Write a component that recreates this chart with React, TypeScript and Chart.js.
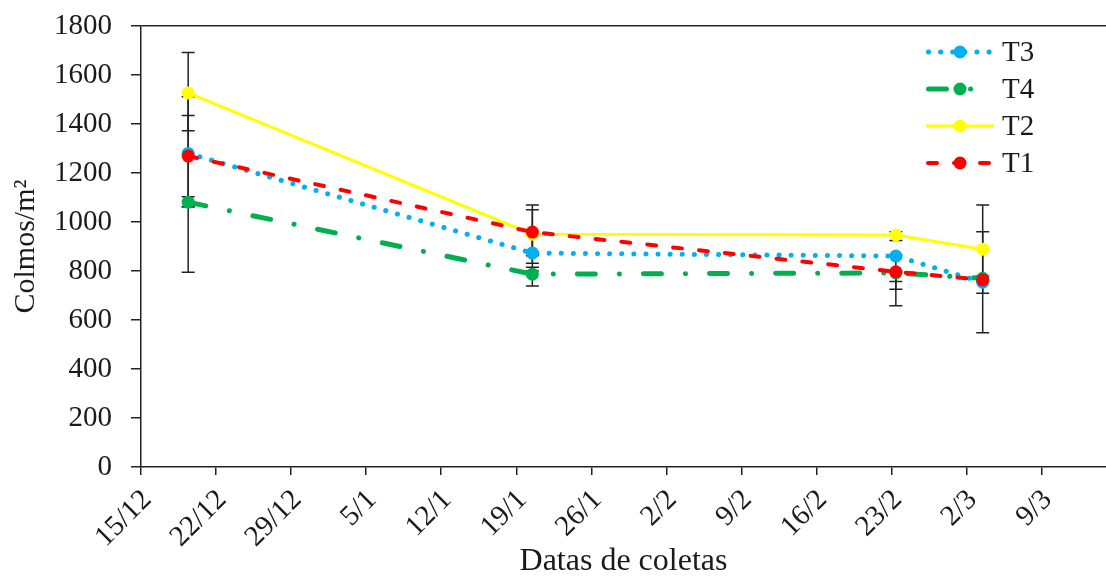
import React, { useEffect, useRef } from "react";
import { Chart, registerables } from "chart.js";

Chart.register(...registerables);

// Sampling dates, as days after 15/12
const sampleDays = [4.4, 36.5, 70.4, 78.5];
// Tick labels, one every 7 days starting at 15/12
const tickLabels = ["15/12", "22/12", "29/12", "5/1", "12/1", "19/1", "26/1", "2/2", "9/2", "16/2", "23/2", "2/3", "9/3"];

// Series values (Colmos/m²)
const t3Values = [1280, 873, 861, 754];
const t4Values = [1081, 787, 792, 770];
const t2Values = [1527, 950, 947, 889];
const t1Values = [1269, 959, 797, 764];

// Error bar limits (low / high)
const t3Low = [1062, 862, 726, 548];
const t3High = [1511, 945, 866, 960];
const t4Low = [1062, 739, 757, 760];
const t4High = [1103, 800, 795, 780];
const t2Low = [1372, 832, 924, 709];
const t2High = [1692, 1050, 960, 1069];
const t1Low = [795, 815, 658, 754];
const t1High = [1435, 1069, 800, 774];

const FONT = "'Liberation Serif', 'Times New Roman', serif";
const TEXT = "#1a1a1a";
const AXIS = "#222222";

const series = [
  { label: "T3", values: t3Values, low: t3Low, high: t3High, color: "#00B0F0", width: 5, dash: [0.1, 12], cap: "round", order: 1 },
  { label: "T4", values: t4Values, low: t4Low, high: t4High, color: "#00B050", width: 5, dash: [18, 24, 0.1, 24], cap: "round", order: 2 },
  { label: "T2", values: t2Values, low: t2Low, high: t2High, color: "#FFFF00", width: 3, dash: [], cap: "butt", order: 3 },
  { label: "T1", values: t1Values, low: t1Low, high: t1High, color: "#FF0000", width: 4, dash: [9, 17], cap: "round", order: 0 },
];

const errorBarPlugin = {
  id: "errorBars",
  beforeDatasetsDraw(chart: any) {
    const { ctx } = chart;
    const xs = chart.scales.x;
    const ys = chart.scales.y;
    ctx.save();
    ctx.strokeStyle = AXIS;
    ctx.lineWidth = 1.5;
    series.forEach((s) => {
      sampleDays.forEach((d, i) => {
        const x = xs.getPixelForValue(d);
        const yl = ys.getPixelForValue(s.low[i]);
        const yh = ys.getPixelForValue(s.high[i]);
        ctx.beginPath();
        ctx.moveTo(x, yl);
        ctx.lineTo(x, yh);
        ctx.moveTo(x - 6.5, yl);
        ctx.lineTo(x + 6.5, yl);
        ctx.moveTo(x - 6.5, yh);
        ctx.lineTo(x + 6.5, yh);
        ctx.stroke();
      });
    });
    ctx.restore();
  },
};

const legendPlugin = {
  id: "customLegend",
  afterDraw(chart: any) {
    const { ctx } = chart;
    ctx.save();
    series.forEach((s, i) => {
      const y = 52 + i * 37;
      const x0 = 926;
      const x1 = s.label === "T4" ? 975 : 994;
      ctx.beginPath();
      ctx.strokeStyle = s.color;
      ctx.lineWidth = s.width;
      ctx.lineCap = s.cap;
      ctx.setLineDash(s.dash);
      ctx.moveTo(x0 + (s.cap === "round" ? s.width / 2 : 0), y);
      ctx.lineTo(x1, y);
      ctx.stroke();
      ctx.setLineDash([]);
      ctx.beginPath();
      ctx.fillStyle = s.color;
      ctx.arc(960, y, 6.5, 0, Math.PI * 2);
      ctx.fill();
      ctx.fillStyle = TEXT;
      ctx.font = `29px ${FONT}`;
      ctx.textAlign = "left";
      ctx.textBaseline = "middle";
      ctx.fillText(s.label, 1002, y + 1);
    });
    ctx.restore();
  },
};

export default function App() {
  const canvasRef = useRef<HTMLCanvasElement | null>(null);

  useEffect(() => {
    if (!canvasRef.current) return;
    const chart = new Chart(canvasRef.current, {
      type: "line",
      data: {
        datasets: series.map((s) => ({
          label: s.label,
          data: s.values.map((v, i) => ({ x: sampleDays[i], y: v })),
          borderColor: s.color,
          backgroundColor: s.color,
          borderWidth: s.width,
          borderDash: s.dash,
          borderCapStyle: s.cap as any,
          pointRadius: 6.5,
          pointBorderWidth: 0,
          pointBackgroundColor: s.color,
          pointHoverRadius: 6.5,
          tension: 0,
          fill: false,
          order: s.order,
        })),
      },
      options: {
        responsive: false,
        animation: false,
        layout: { autoPadding: false, padding: { top: 26, right: 0, bottom: 0, left: 0 } },
        plugins: { legend: { display: false }, tooltip: { enabled: false } },
        scales: {
          x: {
            type: "linear",
            min: 0,
            max: 90,
            afterBuildTicks: (scale: any) => {
              scale.ticks = tickLabels.map((_, i) => ({ value: i * 7 }));
            },
            afterFit: (scale: any) => {
              scale.height = 109;
              scale.paddingLeft = 0;
              scale.paddingRight = 0;
            },
            grid: { color: "transparent", tickColor: AXIS, tickLength: 8, lineWidth: 1.5 },
            border: { display: true, color: AXIS, width: 1.5 },
            ticks: {
              autoSkip: false,
              minRotation: 45,
              maxRotation: 45,
              padding: 8,
              labelOffset: 6,
              color: TEXT,
              font: { family: FONT, size: 29 },
              callback: (v: any) => tickLabels[Math.round(Number(v) / 7)] ?? "",
            },
            title: {
              display: true,
              text: "Datas de coletas",
              color: TEXT,
              font: { family: FONT, size: 32 },
              padding: { top: 0, bottom: -5 },
            },
          },
          y: {
            min: 0,
            max: 1800,
            afterFit: (scale: any) => {
              scale.width = 141;
              scale.paddingTop = 0;
              scale.paddingBottom = 0;
            },
            grid: {
              color: (c: any) => (c.tick && c.tick.value === 1800 ? AXIS : "transparent"),
              tickColor: AXIS,
              tickLength: 10,
              lineWidth: 1.5,
            },
            border: { display: true, color: AXIS, width: 1.5 },
            ticks: {
              stepSize: 200,
              padding: 19,
              color: TEXT,
              font: { family: FONT, size: 29 },
              callback: (v: any) => String(v),
            },
            title: {
              display: true,
              text: "Colmos/m²",
              color: TEXT,
              font: { family: FONT, size: 30 },
              padding: { top: 8, bottom: 0 },
            },
          },
        },
      },
      plugins: [errorBarPlugin, legendPlugin],
    });
    return () => chart.destroy();
  }, []);

  return (
    <div style={{ position: "absolute", left: 0, top: 0, width: 1106, height: 576, background: "#fff" }}>
      <canvas ref={canvasRef} width={1106} height={576} style={{ display: "block" }} />
    </div>
  );
}
